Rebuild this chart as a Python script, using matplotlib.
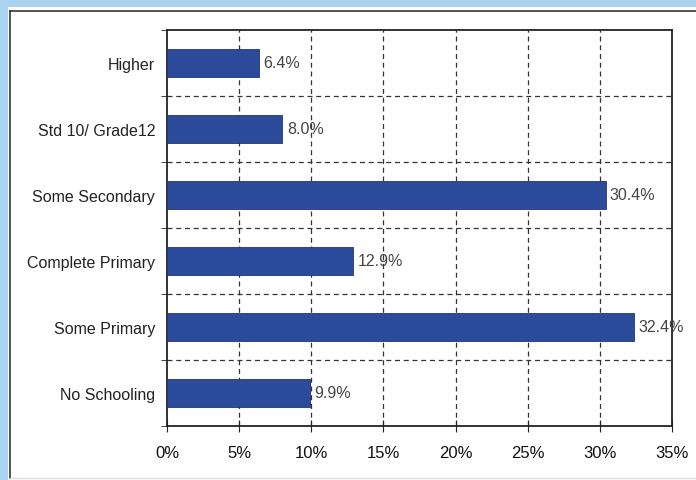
import matplotlib
matplotlib.use("Agg")
import matplotlib.pyplot as plt
from matplotlib.patches import Rectangle
from matplotlib.lines import Line2D
from matplotlib.ticker import FixedLocator, FuncFormatter

categories = ["Higher", "Std 10/ Grade12", "Some Secondary",
              "Complete Primary", "Some Primary", "No Schooling"]
values = [6.4, 8.0, 30.4, 12.9, 32.4, 9.9]
x_ticks = [0, 5, 10, 15, 20, 25, 30, 35]

plt.rcParams["font.family"] = ["Liberation Sans", "DejaVu Sans"]

fig = plt.figure(figsize=(6.96, 4.81), dpi=100)
fig.patch.set_facecolor("white")

# window-like frame around the chart
fig.add_artist(Rectangle((0, 0.983), 1, 0.017, transform=fig.transFigure,
                         facecolor="#a9d3ee", edgecolor="none"))
fig.add_artist(Rectangle((0, 0), 0.012, 1, transform=fig.transFigure,
                         facecolor="#a9d3ee", edgecolor="none"))
fig.add_artist(Line2D([0.015, 1], [0.975, 0.975], transform=fig.transFigure,
                      color="#333333", lw=1.2))
fig.add_artist(Line2D([0.015, 0.015], [0.005, 0.975], transform=fig.transFigure,
                      color="#333333", lw=1.2))
fig.add_artist(Line2D([0.015, 1], [0.005, 0.005], transform=fig.transFigure,
                      color="#dddddd", lw=1.0))

ax = fig.add_axes([0.24, 0.1123, 0.7255, 0.8233])

y = list(range(len(categories)))
ax.barh(y, values, height=0.41, color="#2c4b9b", edgecolor="#1f3577", lw=0.6, zorder=3)

for yi, v in zip(y, values):
    ax.text(v + 0.3, yi, f"{v:.1f}%", va="center", ha="left",
            fontsize=11.5, color="#444444", zorder=4)

ax.set_xlim(0, 35)
ax.set_ylim(len(categories) - 0.5, -0.5)
ax.set_yticks(y)
ax.set_yticklabels(categories, fontsize=11.5, color="#222222")
ax.yaxis.set_minor_locator(FixedLocator([i - 0.5 for i in range(len(categories) + 1)]))
ax.tick_params(axis="y", which="major", length=0, pad=8.5)
ax.tick_params(axis="y", which="minor", length=4, direction="out", color="#222222")

ax.set_xticks(x_ticks)
ax.xaxis.set_major_formatter(FuncFormatter(lambda v, p: f"{int(v)}%"))
ax.tick_params(axis="x", length=8, direction="inout", labelsize=12,
               pad=10, color="#222222", labelcolor="#111111")

# dashed grid: vertical at ticks, horizontal at category boundaries
for xv in x_ticks[1:-1]:
    ax.axvline(xv, color="#333333", lw=0.9, ls=(0, (4, 3)), zorder=1)
for yb in [i + 0.5 for i in range(len(categories) - 1)]:
    ax.axhline(yb, color="#333333", lw=0.9, ls=(0, (4, 3)), zorder=1)

for side in ["top", "right", "bottom", "left"]:
    ax.spines[side].set_color("#222222")
    ax.spines[side].set_linewidth(1.3)

fig.savefig("out.png", dpi=100)
